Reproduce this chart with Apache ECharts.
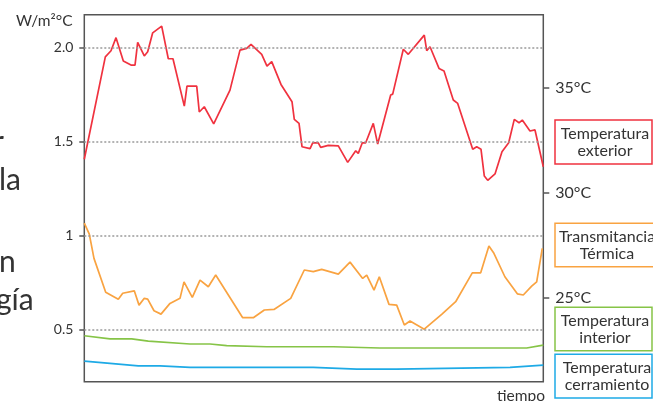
<!DOCTYPE html>
<html><head><meta charset="utf-8">
<script src="https://cdn.jsdelivr.net/npm/echarts@6/dist/echarts.min.js"></script>
<style>html,body{margin:0;padding:0;background:#fff;overflow:hidden}#c{width:653px;height:401px}</style>
</head><body><div id="c"></div>
<script>
// time in arbitrary units (0..100)
const redTime = [0,4.58,5.82,6.91,8.50,10.17,11.05,11.63,13.07,13.81,14.90,16.86,18.30,19.32,21.79,22.37,24.49,25.05,26.14,28.19,31.74,33.92,35.38,36.32,38.65,39.80,40.83,42.85,45.25,45.75,46.78,47.44,49.19,49.76,50.98,51.50,53.16,55.34,57.39,59.13,59.69,60.57,61.31,62.96,63.92,66.75,67.19,69.50,70.59,74.07,74.60,75.32,77.28,78.37,80.39,81.35,84.62,85.49,86.43,87.15,87.89,89.48,91.00,92.46,93.68,94.71,95.42,97.10,98.19,100];
const redTemp = [31.59,36.45,36.74,37.36,36.25,36.06,36.06,37.14,36.49,36.69,37.59,37.91,36.36,36.36,34.11,35.06,35.06,33.83,34.08,33.27,34.87,36.77,36.85,37.04,36.57,36.01,36.22,35.14,34.32,33.48,33.29,32.18,32.09,32.37,32.37,32.15,32.25,32.22,31.44,31.99,31.87,32.37,32.37,33.29,32.31,34.64,34.68,36.81,36.57,37.48,36.74,36.93,35.90,35.78,34.40,34.24,32.06,32.18,32.06,30.79,30.59,30.89,31.95,32.37,33.48,33.32,33.45,32.93,32.98,31.23];

const orangeTime = [0,1.09,2.11,4.66,7.41,8.37,10.89,11.92,13.07,13.81,15.19,16.71,18.67,20.85,21.72,23.53,25.21,27.02,28.63,34.51,36.82,39.22,41.33,44.97,47.93,49.89,51.72,55.34,57.89,60.65,61.53,63.12,64.27,66.38,68.06,69.72,70.96,74.07,77.86,80.91,84.53,86.36,88.15,89.24,91.63,94.34,95.64,97.47,98.56,99.78];
const orangeVal = [1.066,1.007,0.878,0.697,0.660,0.692,0.705,0.629,0.665,0.661,0.599,0.581,0.638,0.665,0.753,0.670,0.762,0.727,0.789,0.562,0.562,0.603,0.606,0.665,0.816,0.807,0.819,0.794,0.858,0.771,0.789,0.709,0.780,0.633,0.629,0.523,0.544,0.501,0.580,0.647,0.801,0.801,0.944,0.905,0.780,0.689,0.683,0.730,0.753,0.931];

const greenTime = [0,5.60,10.33,13.94,23.03,27.39,31.02,39.74,54.25,64.42,96.38,100];
const greenTemp = [23.21,23.06,23.06,22.96,22.82,22.82,22.74,22.69,22.69,22.63,22.63,22.77];

const blueTime = [0,5.60,11.76,16.49,23.03,49.89,59.35,68.06,92.76,100];
const blueTemp = [22.01,21.90,21.78,21.78,21.71,21.71,21.63,21.63,21.71,21.82];

const leftTicks = [0.5,1,1.5,2];
const leftTickLabels = ['0.5','1','1.5','2.0'];
const rightTicks = [25,30,35];
const rightTickLabels = ['25°C','30°C','35°C'];

const legendNames = ['Temperatura\nexterior','Transmitancia\nTérmica','Temperatura\ninterior','Temperatura\ncerramiento'];
const sideFragments = ['r','la','n','gía'];

const C_RED = '#f0323f', C_OR = '#f9a341', C_GR = '#86c447', C_BL = '#1eaae6';
const FONT = 'Lato';
const TXT = '#333';

const zip = (a, b) => a.map((t, i) => [t, b[i]]);

const chart = echarts.init(document.getElementById('c'), null, {renderer: 'canvas'});

function box(x, y, w, h, color, text, cx) {
  return {
    type: 'group',
    children: [
      {type: 'rect', shape: {x: x, y: y, width: w, height: h},
       style: {fill: '#fff', stroke: color, lineWidth: 1.5}},
      {type: 'text', style: {x: cx, y: y + h / 2 + 0.5, text: text, align: 'center', verticalAlign: 'middle',
        font: '16px ' + FONT, fill: TXT, lineHeight: 17}}
    ]
  };
}

const fragStyle = (t, x, y, align) => ({type: 'text', style: {x: x, y: y, text: t, align: align, verticalAlign: 'bottom',
  font: '30px ' + FONT, fill: TXT}});

chart.setOption({
  animation: false,
  backgroundColor: '#fff',
  grid: {left: 84.3, right: 109.7, top: 14.7, bottom: 19.3, show: true, borderColor: '#555', borderWidth: 1.5, backgroundColor: 'transparent'},
  xAxis: {type: 'value', min: 0, max: 100, axisLine: {show: false}, axisTick: {show: false}, axisLabel: {show: false}, splitLine: {show: false}},
  yAxis: [
    {type: 'value', min: 0.221, max: 2.176, position: 'left',
     axisLine: {show: false},
     axisTick: {show: true, customValues: leftTicks, length: 5, lineStyle: {color: '#555', width: 1.5}},
     axisLabel: {customValues: leftTicks, margin: 11, fontFamily: FONT, fontSize: 14, color: TXT,
       formatter: v => leftTickLabels[leftTicks.indexOf(v)]},
     splitLine: {show: false}},
    {type: 'value', min: 21.03, max: 38.45, position: 'right',
     axisLine: {show: false},
     axisTick: {show: true, customValues: rightTicks, length: 6, lineStyle: {color: '#555', width: 1.5}},
     axisLabel: {customValues: rightTicks, margin: 12, fontFamily: FONT, fontSize: 16, color: TXT,
       formatter: v => rightTickLabels[rightTicks.indexOf(v)]},
     splitLine: {show: false}}
  ],
  series: [
    {name: 'Transmitancia Térmica', type: 'line', yAxisIndex: 0, data: zip(orangeTime, orangeVal), showSymbol: false,
     lineStyle: {color: C_OR, width: 1.7}, z: 3,
     markLine: {silent: true, symbol: 'none', label: {show: false},
       lineStyle: {color: '#9a9a9a', type: [2, 2], width: 1.5},
       data: leftTicks.map(v => ({yAxis: v}))}},
    {name: 'Temperatura exterior', type: 'line', yAxisIndex: 1, data: zip(redTime, redTemp), showSymbol: false,
     lineStyle: {color: C_RED, width: 1.7}, z: 4},
    {name: 'Temperatura interior', type: 'line', yAxisIndex: 1, data: zip(greenTime, greenTemp), showSymbol: false,
     lineStyle: {color: C_GR, width: 1.7}, z: 3},
    {name: 'Temperatura cerramiento', type: 'line', yAxisIndex: 1, data: zip(blueTime, blueTemp), showSymbol: false,
     lineStyle: {color: C_BL, width: 1.7}, z: 3}
  ],
  graphic: [
    {type: 'text', style: {x: 72.5, y: 21, text: 'W/m²°C', align: 'right', verticalAlign: 'middle', font: '15.5px ' + FONT, fill: TXT}},
    {type: 'text', style: {x: 545, y: 404, text: 'tiempo', align: 'right', verticalAlign: 'bottom', font: '15.5px ' + FONT, fill: TXT}},
    box(555, 120, 97, 44, C_RED, legendNames[0], 605),
    box(555, 223.3, 106, 43.4, C_OR, legendNames[1], 607),
    box(555, 307.3, 97, 43.4, C_GR, legendNames[2], 605),
    box(555, 354.3, 97, 43.7, C_BL, legendNames[3], 607),
    fragStyle(sideFragments[0], 4, 157, 'right'),
    fragStyle(sideFragments[1], -1, 195, 'left'),
    fragStyle(sideFragments[2], -1, 277, 'left'),
    fragStyle(sideFragments[3], -4, 315, 'left')
  ]
});
</script>
</body></html>
